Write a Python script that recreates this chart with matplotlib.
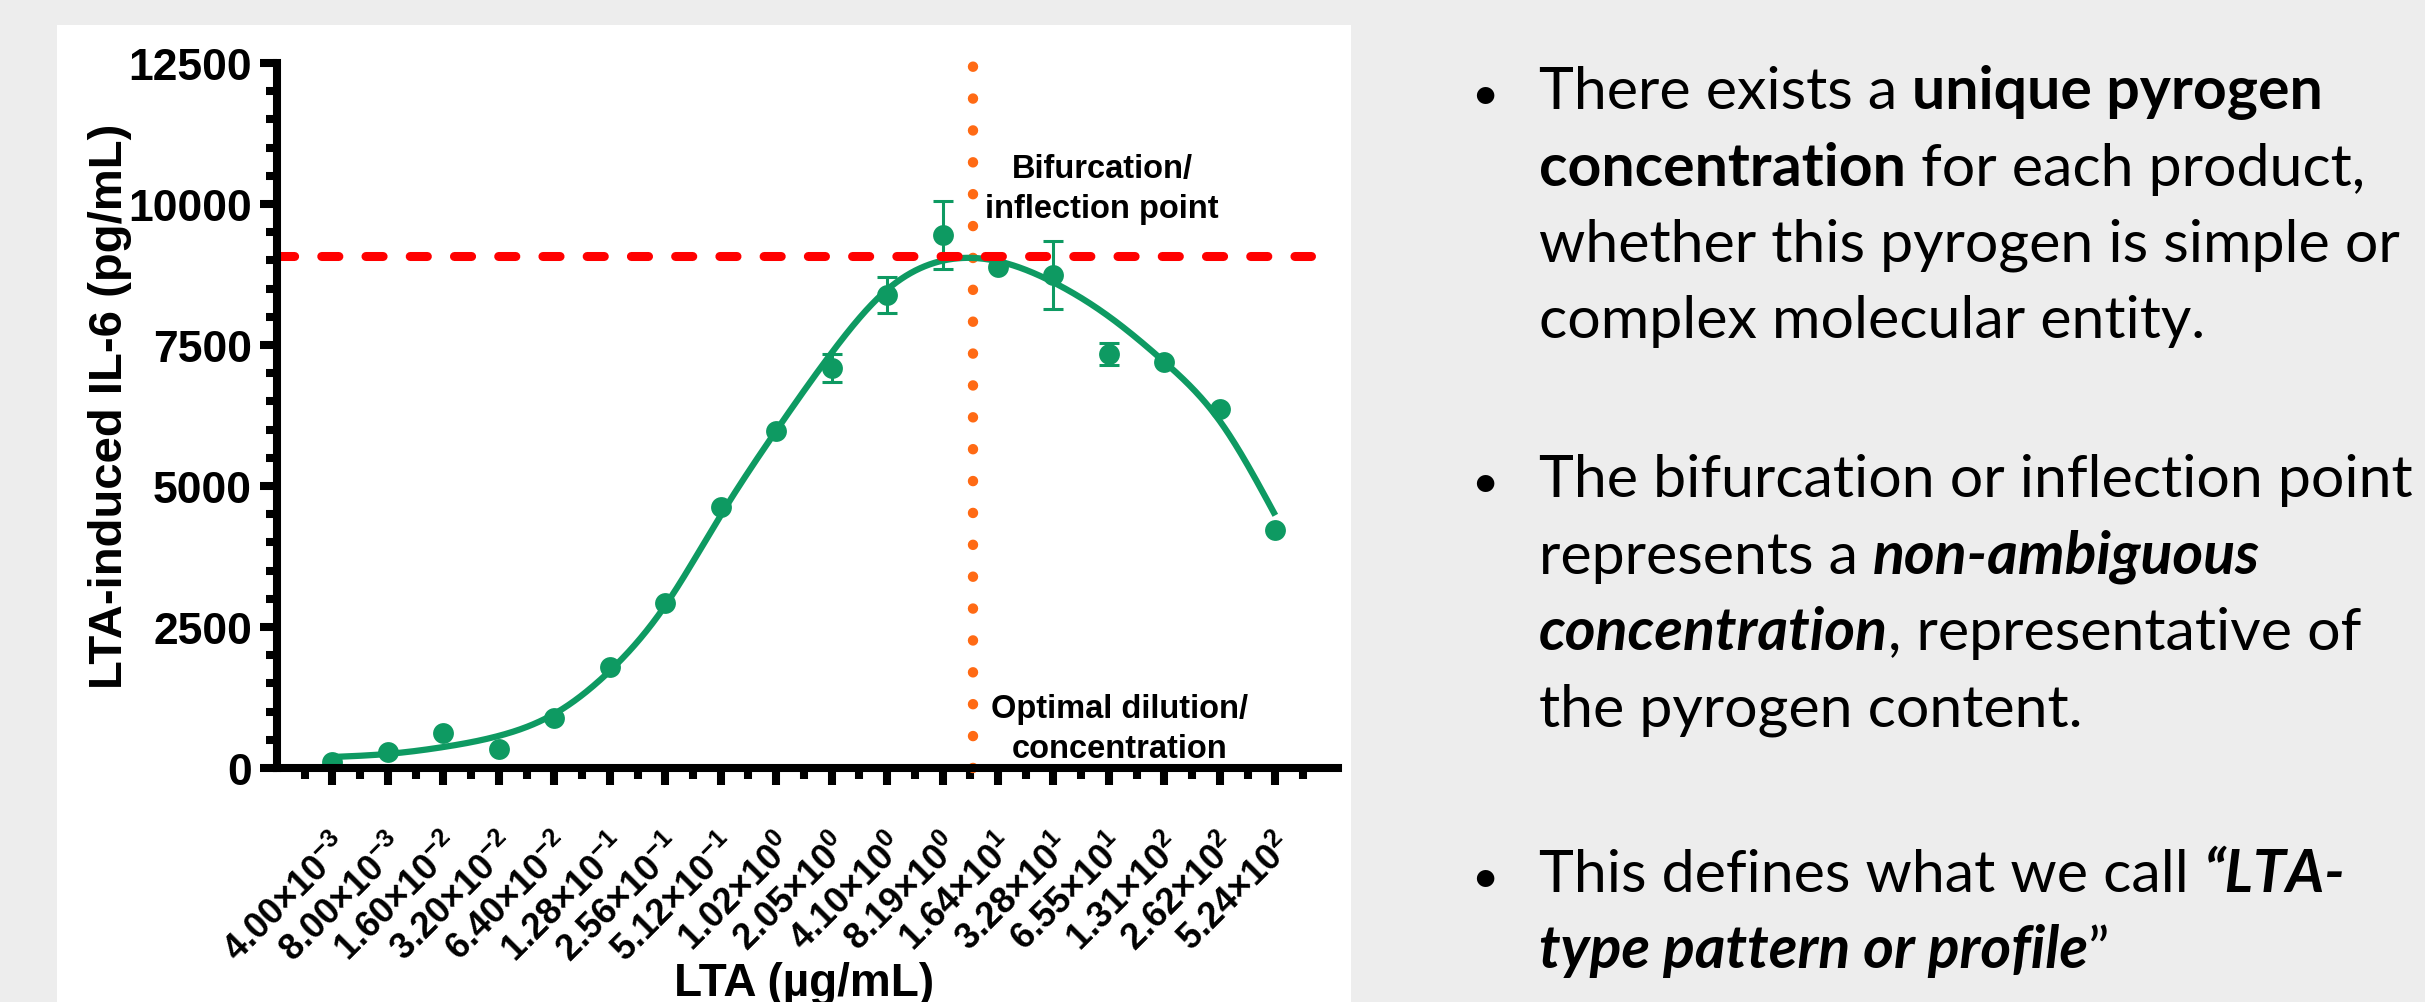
import numpy as np
import matplotlib
matplotlib.use("Agg")
import matplotlib.pyplot as plt
from matplotlib.patches import Rectangle
from matplotlib.ticker import MultipleLocator, FixedLocator

# ---------------- data ----------------
conc_mantissa = ["4.00", "8.00", "1.60", "3.20", "6.40", "1.28", "2.56", "5.12", "1.02",
                 "2.05", "4.10", "8.19", "1.64", "3.28", "6.55", "1.31", "2.62", "5.24"]
conc_exponent = [-3, -3, -2, -2, -2, -1, -1, -1, 0, 0, 0, 0, 1, 1, 1, 2, 2, 2]

il6_mean = [110, 280, 620, 340, 880, 1790, 2930, 4630, 5975, 7090,
            8390, 9450, 8880, 8740, 7340, 7200, 6365, 4220]
il6_err = [0, 0, 0, 0, 0, 0, 0, 0, 0, 250, 320, 595, 0, 605, 195, 0, 0, 0]

# fitted bell-shaped curve, sampled at each dilution step
fit_pos = list(range(18))
fit_il6 = [195, 250, 372, 570, 960, 1720, 2880, 4480, 5980, 7360, 8480, 8995,
           8985, 8610, 8005, 7200, 6150, 4480]

plateau_il6 = 9080      # bifurcation / inflection level
optimal_pos = 11.55     # optimal dilution position on the dilution axis

# ---------------- style ----------------
GREEN = "#0E9A62"
RED = "#FF0000"
ORANGE = "#FF6A14"
W, H = 2425, 1003

plt.rcParams["font.family"] = ["Liberation Sans", "DejaVu Sans"]
plt.rcParams["mathtext.fontset"] = "custom"
plt.rcParams["mathtext.rm"] = "Liberation Sans"
plt.rcParams["mathtext.bf"] = "Liberation Sans:bold"
plt.rcParams["mathtext.it"] = "Liberation Sans:italic"

fig = plt.figure(figsize=(W / 100, H / 100), dpi=100, facecolor="#EDEDED")

# white chart panel
fig.add_artist(Rectangle((57 / W, 0), (1351 - 57) / W, (H - 26) / H,
                         transform=fig.transFigure, facecolor="white",
                         edgecolor="none", zorder=0))

ax = fig.add_axes([277 / W, 1 - 769 / H, (1338 - 277) / W, (769 - 64) / H])
ax.set_facecolor("none")

x = np.arange(len(il6_mean))


def natural_spline(xk, yk, xq):
    xk = np.asarray(xk, float)
    yk = np.asarray(yk, float)
    n = len(xk)
    h = np.diff(xk)
    A = np.zeros((n, n))
    r = np.zeros(n)
    A[0, 0] = A[-1, -1] = 1.0
    for i in range(1, n - 1):
        A[i, i - 1] = h[i - 1]
        A[i, i] = 2 * (h[i - 1] + h[i])
        A[i, i + 1] = h[i]
        r[i] = 6 * ((yk[i + 1] - yk[i]) / h[i] - (yk[i] - yk[i - 1]) / h[i - 1])
    M = np.linalg.solve(A, r)
    i = np.clip(np.searchsorted(xk, xq) - 1, 0, n - 2)
    a = xk[i + 1] - xq
    b = xq - xk[i]
    hi = h[i]
    return (M[i] * a**3 / (6 * hi) + M[i + 1] * b**3 / (6 * hi)
            + (yk[i] / hi - M[i] * hi / 6) * a
            + (yk[i + 1] / hi - M[i + 1] * hi / 6) * b)


xs = np.linspace(fit_pos[0], fit_pos[-1], 800)
ax.plot(xs, natural_spline(fit_pos, fit_il6, xs), color=GREEN, lw=4.5,
        solid_capstyle="butt", zorder=3)

err = np.array(il6_err, float)
mask = err > 0
ax.errorbar(x[mask], np.array(il6_mean)[mask], yerr=err[mask], fmt="none",
            ecolor=GREEN, elinewidth=2.2, capsize=7.5, capthick=2.2, zorder=4)
ax.plot(x, il6_mean, "o", color=GREEN, markersize=15, markeredgewidth=0, zorder=5)

# reference lines
ax.plot([-1, 17.65], [plateau_il6, plateau_il6], color=RED, lw=6.5,
        linestyle=(0, (1.9, 3.0)), dash_capstyle="round", zorder=6, clip_on=False)
ax.plot([optimal_pos, optimal_pos], [0, 12500], color=ORANGE, lw=7.5,
        linestyle=(0, (0.01, 3.05)), dash_capstyle="round", zorder=2, clip_on=False)

# axes
ax.set_xlim(-1, 18.13)
ax.set_ylim(0, 12500)
for side in ("top", "right"):
    ax.spines[side].set_visible(False)
for side in ("left", "bottom"):
    ax.spines[side].set_linewidth(5.8)
    ax.spines[side].set_zorder(7)

ax.yaxis.set_major_locator(MultipleLocator(2500))
ax.yaxis.set_minor_locator(MultipleLocator(500))
ax.xaxis.set_major_locator(FixedLocator(list(range(len(il6_mean)))))
ax.xaxis.set_minor_locator(FixedLocator([i - 0.5 for i in range(len(il6_mean) + 1)]))

ax.tick_params(which="major", length=12, width=5.8, direction="out", color="black")
ax.tick_params(which="minor", length=8, width=5.8, direction="out", color="black")
ax.tick_params(axis="y", which="major", pad=6, labelsize=32)
ax.tick_params(axis="x", which="major", pad=31)

for lab in ax.get_yticklabels():
    lab.set_fontweight("bold")

tick_text = [r"$\mathbf{%s{\times}10^{%d}}$" % (m, e)
             for m, e in zip(conc_mantissa, conc_exponent)]
ax.set_xticklabels(tick_text, rotation=45, ha="right", va="top",
                   rotation_mode="anchor", fontsize=26)

fig.text(110 / W, 1 - 406 / H, "LTA-induced IL-6 (pg/mL)", rotation=90,
         ha="center", va="center", fontsize=34, fontweight="bold")
fig.text(804 / W, 1 - 996 / H, "LTA (µg/mL)", ha="center", va="baseline",
         fontsize=33, fontweight="bold")

# annotations
fig.text(1102 / W, 1 - 178 / H, "Bifurcation/", ha="center", va="baseline",
         fontsize=23.5, fontweight="bold")
fig.text(1102 / W, 1 - 218 / H, "inflection point", ha="center", va="baseline",
         fontsize=23.5, fontweight="bold")
fig.text(1120 / W, 1 - 718 / H, "Optimal dilution/", ha="center", va="baseline",
         fontsize=23.5, fontweight="bold")
fig.text(1120 / W, 1 - 758 / H, "concentration", ha="center", va="baseline",
         fontsize=23.5, fontweight="bold")

# ---------------- bullet text ----------------
renderer = fig.canvas.get_renderer()
BODY = dict(family=["Lato", "DejaVu Sans"], fontsize=42.5, color="black")
STYLES = {"n": dict(fontweight="normal", fontstyle="normal"),
          "b": dict(fontweight="bold", fontstyle="normal"),
          "bi": dict(fontweight="bold", fontstyle="italic")}


def run_width(s, kw):
    t = fig.text(0, 0, "|" + s + "|", **kw)
    w1 = t.get_window_extent(renderer).width
    t.set_text("||")
    w0 = t.get_window_extent(renderer).width
    t.remove()
    return w1 - w0


def draw_line(x_px, base_px, runs):
    for s, st in runs:
        kw = dict(BODY, **STYLES[st])
        fig.text(x_px / W, 1 - base_px / H, s, ha="left", va="baseline", **kw)
        x_px += run_width(s, kw)


paragraphs = [
    (109, [[("There exists a ", "n"), ("unique pyrogen", "b")],
           [("concentration", "b"), (" for each product,", "n")],
           [("whether this pyrogen is simple or", "n")],
           [("complex molecular entity.", "n")]]),
    (497, [[("The bifurcation or inflection point", "n")],
           [("represents a ", "n"), ("non-ambiguous", "bi")],
           [("concentration", "bi"), (", representative of", "n")],
           [("the pyrogen content.", "n")]]),
    (892, [[("This defines what we call ", "n"), ("\u201cLTA-", "bi")],
           [("type pattern or profile", "bi"), ("\u201d", "n")]]),
]
LINE_STEP = 76.5
for base, lines in paragraphs:
    fig.text(1485 / W, 1 - base / H, "\u2022", ha="center", va="baseline",
             **dict(BODY, **STYLES["n"], fontsize=34))
    for i, runs in enumerate(lines):
        draw_line(1539, base + i * LINE_STEP, runs)

fig.savefig("out.png", dpi=100, facecolor=fig.get_facecolor())
